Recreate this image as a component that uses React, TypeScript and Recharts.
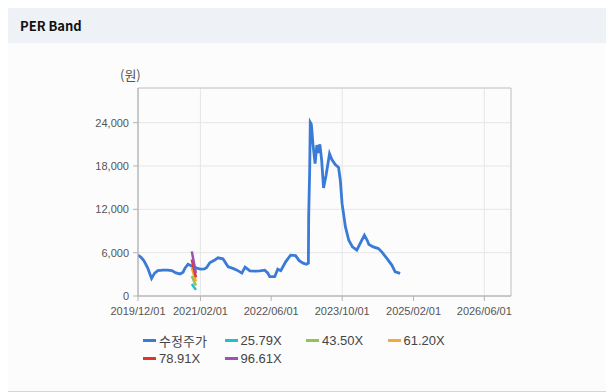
import React from 'react';
import { LineChart, Line, XAxis, YAxis, CartesianGrid, ReferenceArea } from 'recharts';

// 수정주가 (adjusted price)
const priceDates = [
  '2019-12-01', '2019-12-20', '2020-01-10', '2020-02-05', '2020-03-03', '2020-03-24', '2020-04-15',
  '2020-05-20', '2020-06-20', '2020-07-20', '2020-08-17', '2020-09-14', '2020-10-05', '2020-10-18',
  '2020-11-08', '2020-11-22', '2020-12-10', '2021-01-06', '2021-02-01', '2021-03-01', '2021-03-16',
  '2021-04-06', '2021-05-10', '2021-06-01', '2021-07-05', '2021-08-10', '2021-09-12', '2021-10-10',
  '2021-11-12', '2021-12-04', '2022-01-06', '2022-02-10', '2022-03-15', '2022-04-18', '2022-05-08',
  '2022-05-22', '2022-06-25', '2022-07-16', '2022-08-06', '2022-09-08', '2022-10-12', '2022-11-15',
  '2022-12-10', '2023-01-06', '2023-01-28', '2023-02-11', '2023-02-13', '2023-02-20', '2023-02-24',
  '2023-03-03', '2023-03-08', '2023-03-14', '2023-03-29', '2023-04-10', '2023-04-21', '2023-05-01',
  '2023-05-13', '2023-05-26', '2023-06-12', '2023-07-06', '2023-07-22', '2023-08-14', '2023-09-06',
  '2023-09-18', '2023-09-30', '2023-10-23', '2023-11-15', '2023-12-10', '2024-01-09', '2024-02-01',
  '2024-03-01', '2024-03-20', '2024-04-01', '2024-05-01', '2024-06-05', '2024-06-28', '2024-08-02',
  '2024-09-05', '2024-09-28', '2024-11-01',
];
const priceValues = [
  5650, 5400, 4900, 3900, 2440, 3170, 3500,
  3580, 3580, 3520, 3200, 3050, 3300, 3860,
  4400, 4270, 4100, 3860, 3720, 3750, 3950,
  4600, 4970, 5290, 5150, 4050, 3820, 3580,
  3170, 3990, 3490, 3450, 3490, 3580, 3200,
  2670, 2670, 3720, 3500, 4730, 5650, 5600,
  4900, 4550, 4400, 4550, 10940, 17500, 24040,
  23800, 22680, 21100, 18340, 20900, 19800, 21000,
  18800, 14950, 16690, 19700, 18900, 18200, 17800,
  16000, 12780, 9560, 7720, 6800, 6340, 7270,
  8410, 7720, 7130, 6800, 6570, 6110, 5200,
  4280, 3350, 3130,
];

// PER band lines (only a few points exist)
const bandDates = ['2020-12-04', '2020-12-18', '2021-01-01'];
const band2579 = [1650, 1240, 850];
const band4350 = [2780, 2090, 1440];
const band6120 = [3920, 2940, 2020];
const band7891 = [5050, 3790, 2600];
const band9661 = [6180, 4640, 3190];

const seriesNames = ['수정주가', '25.79X', '43.50X', '61.20X', '78.91X', '96.61X'];
const seriesColors = ['#3a7bd8', '#25bfc8', '#93c25a', '#f3aa3c', '#e0352c', '#9b53b3'];

const xTickLabels = ['2019/12/01', '2021/02/01', '2022/06/01', '2023/10/01', '2025/02/01', '2026/06/01'];
const xEnd = '2026-12-01';
const yTicks = [0, 6000, 12000, 18000, 24000];
const yMax = 28800;

const toTime = (s: string) => Date.parse(s.replace(/\//g, '-'));
const xTicks = xTickLabels.map(toTime);
const xDomain = [xTicks[0], toTime(xEnd)];

const pts = (dates: string[], vals: number[]) => dates.map((d, i) => ({ t: toTime(d), v: vals[i] }));
const priceData = pts(priceDates, priceValues);
const bands = [band2579, band4350, band6120, band7891, band9661].map((b) => pts(bandDates, b));

const pad = (n: number) => (n < 10 ? '0' + n : '' + n);
const fmtDate = (t: number) => {
  const d = new Date(t);
  return `${d.getUTCFullYear()}/${pad(d.getUTCMonth() + 1)}/${pad(d.getUTCDate())}`;
};

const tickFont = { fontSize: 11, fill: '#555', fontFamily: '"Liberation Sans", Arial, sans-serif' };

export default function App() {
  return (
    <div
      style={{
        position: 'relative',
        marginTop: -1,
        width: 599,
        height: 383,
        background: '#fcfcfc',
        borderTop: '1px solid #d6d6d6',
        borderBottom: '1px solid #d6d6d6',
      }}
    >
      <div
        style={{
          height: 35,
          lineHeight: '35px',
          background: '#eef2f7',
          paddingLeft: 12,
          fontFamily: '"Noto Sans CJK KR", "Noto Sans", sans-serif',
          fontWeight: 'bold',
          fontSize: 13,
          color: '#111',
        }}
      >
        PER Band
      </div>

      <LineChart width={599} height={346} margin={{ top: 45, right: 96, left: 0, bottom: 63 }}>
        <CartesianGrid stroke="#e6e6e6" />
        <ReferenceArea
          x1={xDomain[0]}
          x2={xDomain[1]}
          y1={0}
          y2={yMax}
          fill="none"
          stroke="#c8c8c8"
          strokeOpacity={1}
        />
        <XAxis
          dataKey="t"
          type="number"
          domain={xDomain}
          ticks={xTicks}
          tickFormatter={fmtDate}
          allowDataOverflow
          height={30}
          tickSize={5}
          tickMargin={6}
          stroke="#b4b4b4"
          tick={tickFont}
        />
        <YAxis
          dataKey="v"
          type="number"
          domain={[0, yMax]}
          ticks={yTicks}
          width={130}
          tickSize={5}
          tickMargin={4}
          stroke="#b4b4b4"
          tick={tickFont}
          tickFormatter={(v: number) => v.toLocaleString('en-US')}
        />
        <Line
          data={priceData}
          dataKey="v"
          name={seriesNames[0]}
          type="linear"
          stroke={seriesColors[0]}
          strokeWidth={2.8}
          dot={false}
          isAnimationActive={false}
        />
        {bands.map((b, i) => (
          <Line
            key={seriesNames[i + 1]}
            data={b}
            dataKey="v"
            name={seriesNames[i + 1]}
            type="linear"
            stroke={seriesColors[i + 1]}
            strokeWidth={2.5}
            dot={false}
            isAnimationActive={false}
          />
        ))}
      </LineChart>

      <span
        style={{
          position: 'absolute',
          left: 112,
          top: 59,
          lineHeight: '16px',
          fontSize: 13,
          color: '#555',
          fontFamily: '"Noto Sans CJK KR", sans-serif',
        }}
      >
        (원)
      </span>

      <div
        style={{
          position: 'absolute',
          left: 135,
          top: 323,
          width: 330,
          display: 'flex',
          flexWrap: 'wrap',
          fontFamily: '"Liberation Sans", "Noto Sans CJK KR", sans-serif',
          fontSize: 13,
          color: '#444',
        }}
      >
        {seriesNames.map((n, i) => (
          <div key={n} style={{ width: 81.5, height: 18, display: 'flex', alignItems: 'center' }}>
            <span style={{ display: 'inline-block', width: 13, height: 3, background: seriesColors[i], marginRight: 3 }} />
            <span style={{ whiteSpace: 'nowrap' }}>{n}</span>
          </div>
        ))}
      </div>
    </div>
  );
}
